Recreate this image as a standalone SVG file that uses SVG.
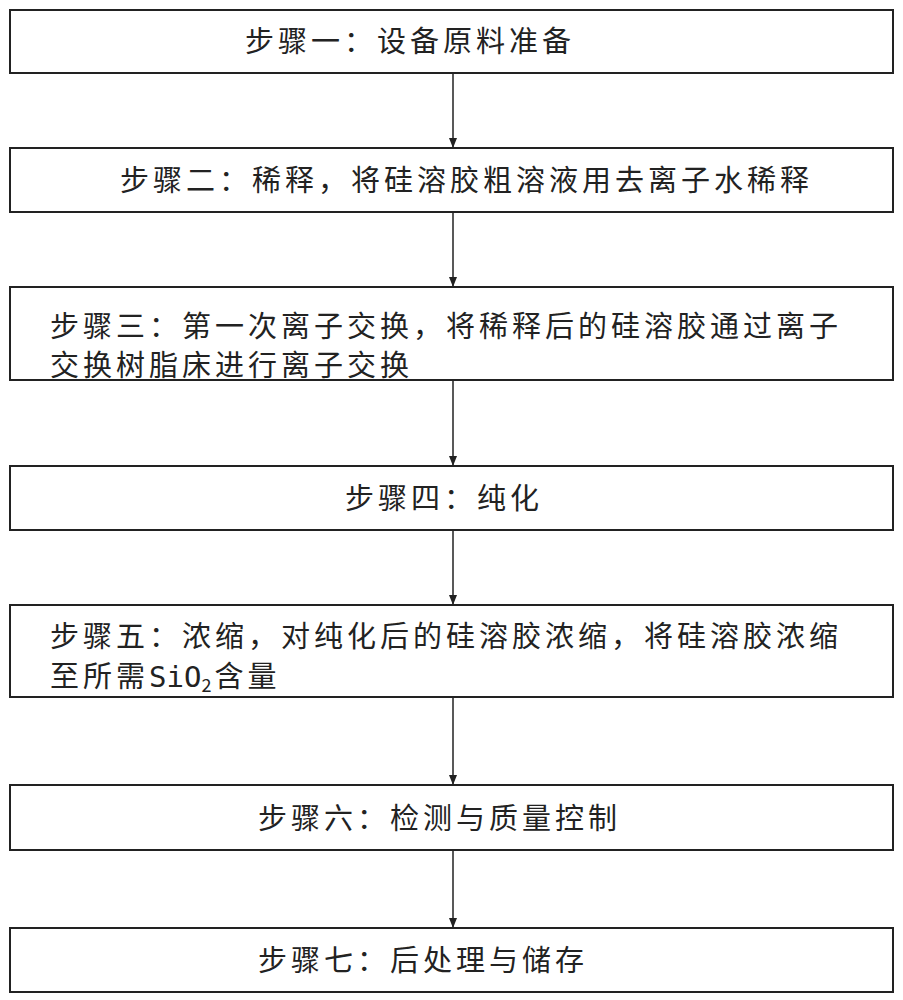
<svg xmlns="http://www.w3.org/2000/svg" width="903" height="1000" viewBox="0 0 903 1000">
<style>
rect{fill:#fff;stroke:#222;stroke-width:2}
text{font-family:"Noto Sans CJK SC","Liberation Sans",sans-serif;font-size:29px;letter-spacing:4px;fill:#222}
line{stroke:#222;stroke-width:1.5}
</style>
<defs><marker id="a" markerWidth="10" markerHeight="10" refX="9" refY="5" orient="auto" markerUnits="userSpaceOnUse"><path d="M0,1 L10,5 L0,9 Z" fill="#222"/></marker></defs>
<rect width="903" height="1000" style="fill:#fff;stroke:none"/>
<g id="connectors">
<line x1="453" y1="73" x2="453" y2="147" marker-end="url(#a)"/>
<line x1="453" y1="212" x2="453" y2="286" marker-end="url(#a)"/>
<line x1="453" y1="380" x2="453" y2="465" marker-end="url(#a)"/>
<line x1="453" y1="530" x2="453" y2="604" marker-end="url(#a)"/>
<line x1="453" y1="697" x2="453" y2="784" marker-end="url(#a)"/>
<line x1="453" y1="850" x2="453" y2="927" marker-end="url(#a)"/>
</g>
<g id="n1"><rect x="10" y="10" width="883" height="63"/><text x="245" y="52">步骤一：设备原料准备</text></g>
<g id="n2"><rect x="10" y="148" width="883" height="64"/><text x="120" y="191">步骤二：稀释，将硅溶胶粗溶液用去离子水稀释</text></g>
<g id="n3"><rect x="10" y="287" width="883" height="93"/><text x="50" y="337">步骤三：第一次离子交换，将稀释后的硅溶胶通过离子</text><text x="50" y="376">交换树脂床进行离子交换</text></g>
<g id="n4"><rect x="10" y="466" width="883" height="64"/><text x="345" y="509">步骤四：纯化</text></g>
<g id="n5"><rect x="10" y="605" width="883" height="92"/><text x="50" y="647">步骤五：浓缩，对纯化后的硅溶胶浓缩，将硅溶胶浓缩</text><text x="50" y="687">至所需<tspan style="letter-spacing:0;font-family:'DejaVu Sans Mono',monospace">SiO</tspan><tspan dy="5" style="font-size:18px;letter-spacing:0">2</tspan><tspan dy="-5" dx="3">含量</tspan></text></g>
<g id="n6"><rect x="10" y="785" width="883" height="65"/><text x="258" y="829">步骤六：检测与质量控制</text></g>
<g id="n7"><rect x="10" y="928" width="883" height="64"/><text x="258" y="971">步骤七：后处理与储存</text></g>
</svg>
